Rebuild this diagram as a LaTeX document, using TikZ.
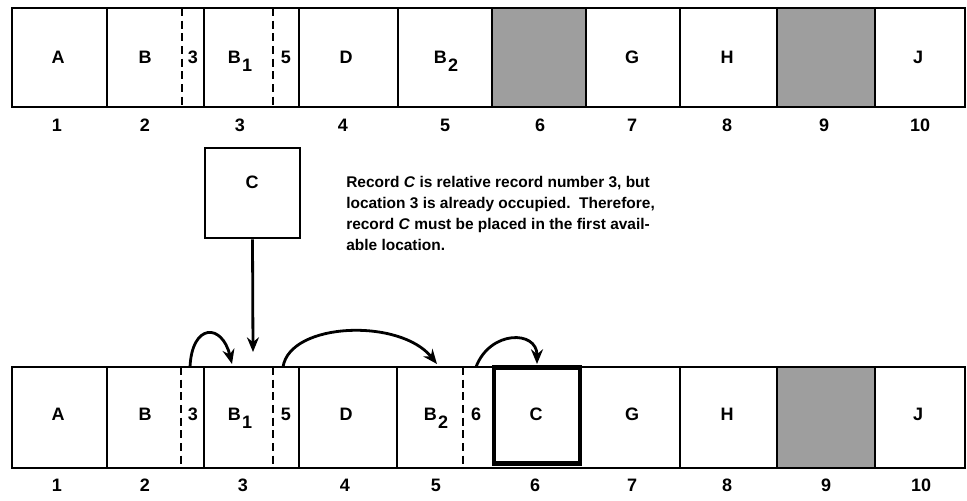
\documentclass[tikz,border=0pt]{standalone}
\usepackage{fontspec}
\setmainfont{Liberation Sans}
\usetikzlibrary{arrows.meta}
\begin{document}
\begin{tikzpicture}[x=0.75pt,y=-0.75pt,
  lbl/.style={font=\fontsize{13.5}{16}\selectfont\bfseries, inner sep=0, anchor=base},
  num/.style={font=\fontsize{13.5}{16}\selectfont\bfseries, inner sep=0, anchor=base},
  para/.style={font=\fontsize{11.6}{15.75}\selectfont\bfseries, inner sep=0, align=left, anchor=north west},
  rowframe/.style={line width=2.2pt},
  cellline/.style={line width=1.8pt},
  dashline/.style={line width=1.6pt, dash pattern=on 6pt off 3.5pt},
  shade/.style={fill=black!38},
  recbox/.style={draw, line width=2.2pt, minimum width=71.25pt, minimum height=67.5pt, inner sep=0},
  newbox/.style={draw, line width=3.2pt, minimum width=65pt, minimum height=72pt, inner sep=0},
  arr/.style={line width=2.1pt, -{Stealth[length=11pt,width=9pt]}},
]
\useasboundingbox (0,0) rectangle (967,500);
% ---------- top row ----------
\fill[shade] (492,8) rectangle (586,107);
\fill[shade] (777,8) rectangle (875,107);
\draw[rowframe] (12,8) rectangle (965,107);
\foreach \x in {107,204,299,398,492,586,680,777,875} \draw[cellline] (\x,8) -- (\x,107);
\draw[dashline] (182,8) -- (182,107);
\draw[dashline] (273,8) -- (273,107);
\node[lbl] (tA) at (58,63) {A};
\node[lbl] (tB) at (145,63) {B};
\node[lbl] (t3) at (193,63) {3};
\node[lbl] (tB1) at (240,63) {B\hspace{1pt}\raisebox{-6pt}{1}};
\node[lbl] (t5) at (286,63) {5};
\node[lbl] (tD) at (346,63) {D};
\node[lbl] (tB2) at (446,63) {B\hspace{1pt}\raisebox{-6pt}{2}};
\node[lbl] (tG) at (632,63) {G};
\node[lbl] (tH) at (727,63) {H};
\node[lbl] (tJ) at (918,63) {J};
\foreach \x/\n in {57/1,145/2,240/3,343/4,445/5,540/6,632/7,727/8,824/9,920/10}
  \node[num] (tn\n) at (\x,131) {\n};
% ---------- record C and note ----------
\node[recbox] (C) at (252.5,193) {};
\node[lbl] (Clbl) at (252,188) {C};
\node[para] (note) at (346,176) {Record \textit{C} is relative record number 3, but\\
location 3 is already occupied.\ \ Therefore,\\
record \textit{C} must be placed in the first avail-\\
able location.};
% ---------- bottom row ----------
\fill[shade] (777,367) rectangle (875,468);
\draw[rowframe] (12,367) rectangle (965,468);
\foreach \x in {107,204,299,397,680,777,875} \draw[cellline] (\x,367) -- (\x,468);
\draw[dashline] (181,367) -- (181,468);
\draw[dashline] (273,367) -- (273,468);
\draw[dashline] (463,367) -- (463,468);
\node[newbox] (Cnew) at (537,415.5) {};
\node[lbl] (bA) at (58,420) {A};
\node[lbl] (bB) at (145,420) {B};
\node[lbl] (b3) at (193,420) {3};
\node[lbl] (bB1) at (240,420) {B\hspace{1pt}\raisebox{-6pt}{1}};
\node[lbl] (b5) at (286,420) {5};
\node[lbl] (bD) at (346,420) {D};
\node[lbl] (bB2) at (436,420) {B\hspace{1pt}\raisebox{-6pt}{2}};
\node[lbl] (b6) at (476,420) {6};
\node[lbl] (bC) at (536,420) {C};
\node[lbl] (bG) at (632,420) {G};
\node[lbl] (bH) at (727,420) {H};
\node[lbl] (bJ) at (918,420) {J};
\foreach \x/\n in {57/1,145/2,243/3,345/4,436/5,535/6,632/7,727/8,826/9,921/10}
  \node[num] (bn\n) at (\x,491) {\n};
% ---------- arrows ----------
\coordinate (drop) at (253,352);
\draw[arr] (C.south) -- (drop);
\coordinate (a1s) at (190,367);
\coordinate (a1e) at (232,364);
\draw[arr] (a1s) .. controls (192,323) and (222,323) .. (a1e);
\coordinate (a2s) at (283,367);
\coordinate (a2e) at (437,364);
\draw[arr] (a2s) .. controls (290,322) and (400,318) .. (a2e);
\coordinate (a3s) at (476,367);
\coordinate (a3e) at (537,364);
\draw[arr] (a3s) .. controls (490,330) and (537,330) .. (a3e);
\end{tikzpicture}
\end{document}
